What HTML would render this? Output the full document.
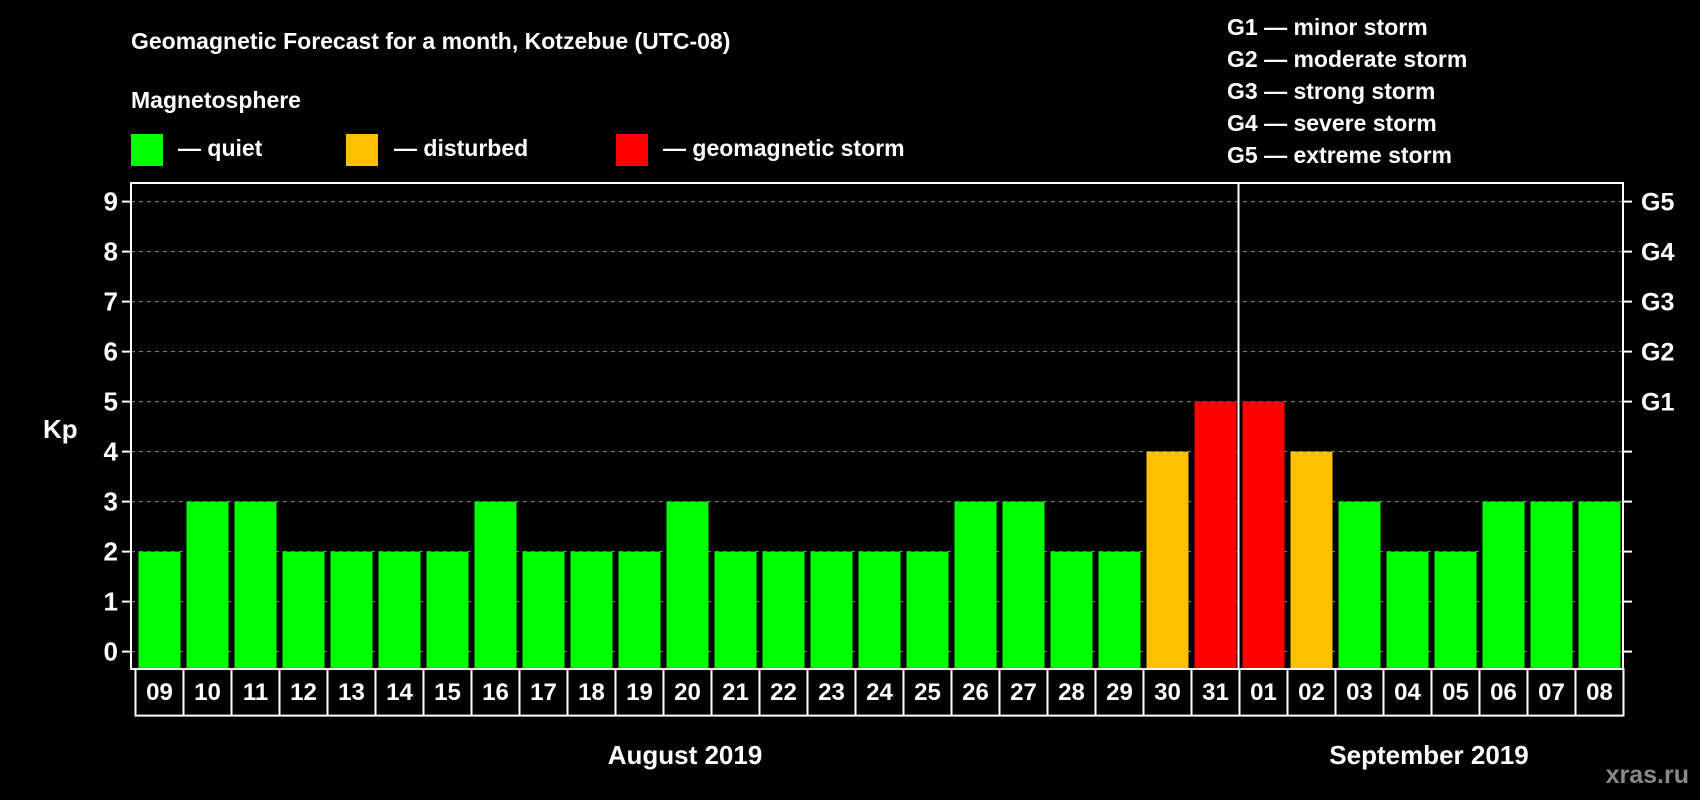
<!DOCTYPE html>
<html><head><meta charset="utf-8"><style>
html,body{margin:0;padding:0;background:#000;}
svg{display:block;font-family:"Liberation Sans",Arial,sans-serif;font-weight:bold;}
</style></head><body>
<svg id="chart" width="1700" height="800" viewBox="0 0 1700 800">
<rect width="1700" height="800" fill="#000"/>
<text x="131" y="49" fill="#fff" font-size="23">Geomagnetic Forecast for a month, Kotzebue (UTC-08)</text>
<text x="131" y="108" fill="#fff" font-size="23">Magnetosphere</text>
<g>
<rect x="131" y="134" width="32" height="32" fill="#00ff00"/>
<text x="178" y="156" fill="#fff" font-size="23">— quiet</text>
<rect x="346" y="134" width="32" height="32" fill="#ffc000"/>
<text x="394" y="156" fill="#fff" font-size="23">— disturbed</text>
<rect x="616" y="134" width="32" height="32" fill="#ff0000"/>
<text x="663" y="156" fill="#fff" font-size="23">— geomagnetic storm</text>
</g>
<g fill="#fff" font-size="23">
<text x="1227" y="35">G1 — minor storm</text>
<text x="1227" y="67">G2 — moderate storm</text>
<text x="1227" y="99">G3 — strong storm</text>
<text x="1227" y="131">G4 — severe storm</text>
<text x="1227" y="163">G5 — extreme storm</text>
</g>
<text x="43" y="438" fill="#fff" font-size="26">Kp</text>
<g id="grid"></g>
<g id="bars"></g>
<rect x="131" y="183" width="1492" height="486" fill="none" stroke="#fff" stroke-width="2"/>
<g id="axes"></g>
<text x="685" y="764" fill="#fff" font-size="26" text-anchor="middle">August 2019</text>
<text x="1429" y="764" fill="#fff" font-size="26" text-anchor="middle">September 2019</text>
<text x="1689" y="783" fill="#888" font-size="25" text-anchor="end">xras.ru</text>
</svg>
<script>
const days = ["09","10","11","12","13","14","15","16","17","18","19","20","21","22","23","24","25","26","27","28","29","30","31","01","02","03","04","05","06","07","08"];
const kpValues = [2,3,3,2,2,2,2,3,2,2,2,3,2,2,2,2,2,3,3,2,2,4,5,5,4,3,2,2,3,3,3];
const yTicks = [0,1,2,3,4,5,6,7,8,9];
const stormLabels = ["G1","G2","G3","G4","G5"];
const monthSplitIndex = 23;

const NS="http://www.w3.org/2000/svg";
const X0=135.5, CW=48, Y0=651.6, UNIT=50;
const xCell=i=>X0+i*CW;
const yPos=v=>Y0-v*UNIT;
function mk(tag,attrs,parent){const e=document.createElementNS(NS,tag);for(const k in attrs)e.setAttribute(k,attrs[k]);parent.appendChild(e);return e;}
const grid=document.getElementById('grid'),bars=document.getElementById('bars'),axes=document.getElementById('axes');
function color(v){return v>=5?"#ff0000":(v>=4?"#ffc000":"#00ff00");}

yTicks.forEach(v=>{
  const y=yPos(v);
  const g=mk('line',{x1:131,x2:1623,y1:y,y2:y,stroke:'#888','stroke-width':1,'stroke-dasharray':'4,4'},grid);
  
  
  const t=mk('line',{x1:122,x2:131,y1:y,y2:y,stroke:'#fff','stroke-width':2},axes);
  
  
  const rt=mk('line',{x1:1623,x2:1632,y1:y,y2:y,stroke:'#fff','stroke-width':2},axes);
  
  
  const l=mk('text',{x:118,y:y+9,fill:'#fff','font-size':26,'text-anchor':'end'},axes);
  l.textContent=v;
  
  
});
stormLabels.forEach((s,i)=>{
  const l=mk('text',{x:1641,y:yPos(5+i)+9,fill:'#fff','font-size':25},axes);
  l.textContent=s;
  
  
});
kpValues.forEach((v,i)=>{
  const b=mk('rect',{x:xCell(i)+3,y:yPos(v),width:CW-6,height:v*UNIT+17.4,fill:color(v)},bars);
  
  
  const c=mk('rect',{x:xCell(i),y:669,width:CW,height:46.6,fill:'#000',stroke:'#fff','stroke-width':2},axes);
  
  
  const t=mk('text',{x:xCell(i)+CW/2,y:700,fill:'#fff','font-size':24,'text-anchor':'middle'},axes);
  t.textContent=days[i];
  
  
});
const sep=mk('line',{x1:xCell(monthSplitIndex)-1,x2:xCell(monthSplitIndex)-1,y1:183,y2:669,stroke:'#fff','stroke-width':2},axes);


</script>
</body></html>
